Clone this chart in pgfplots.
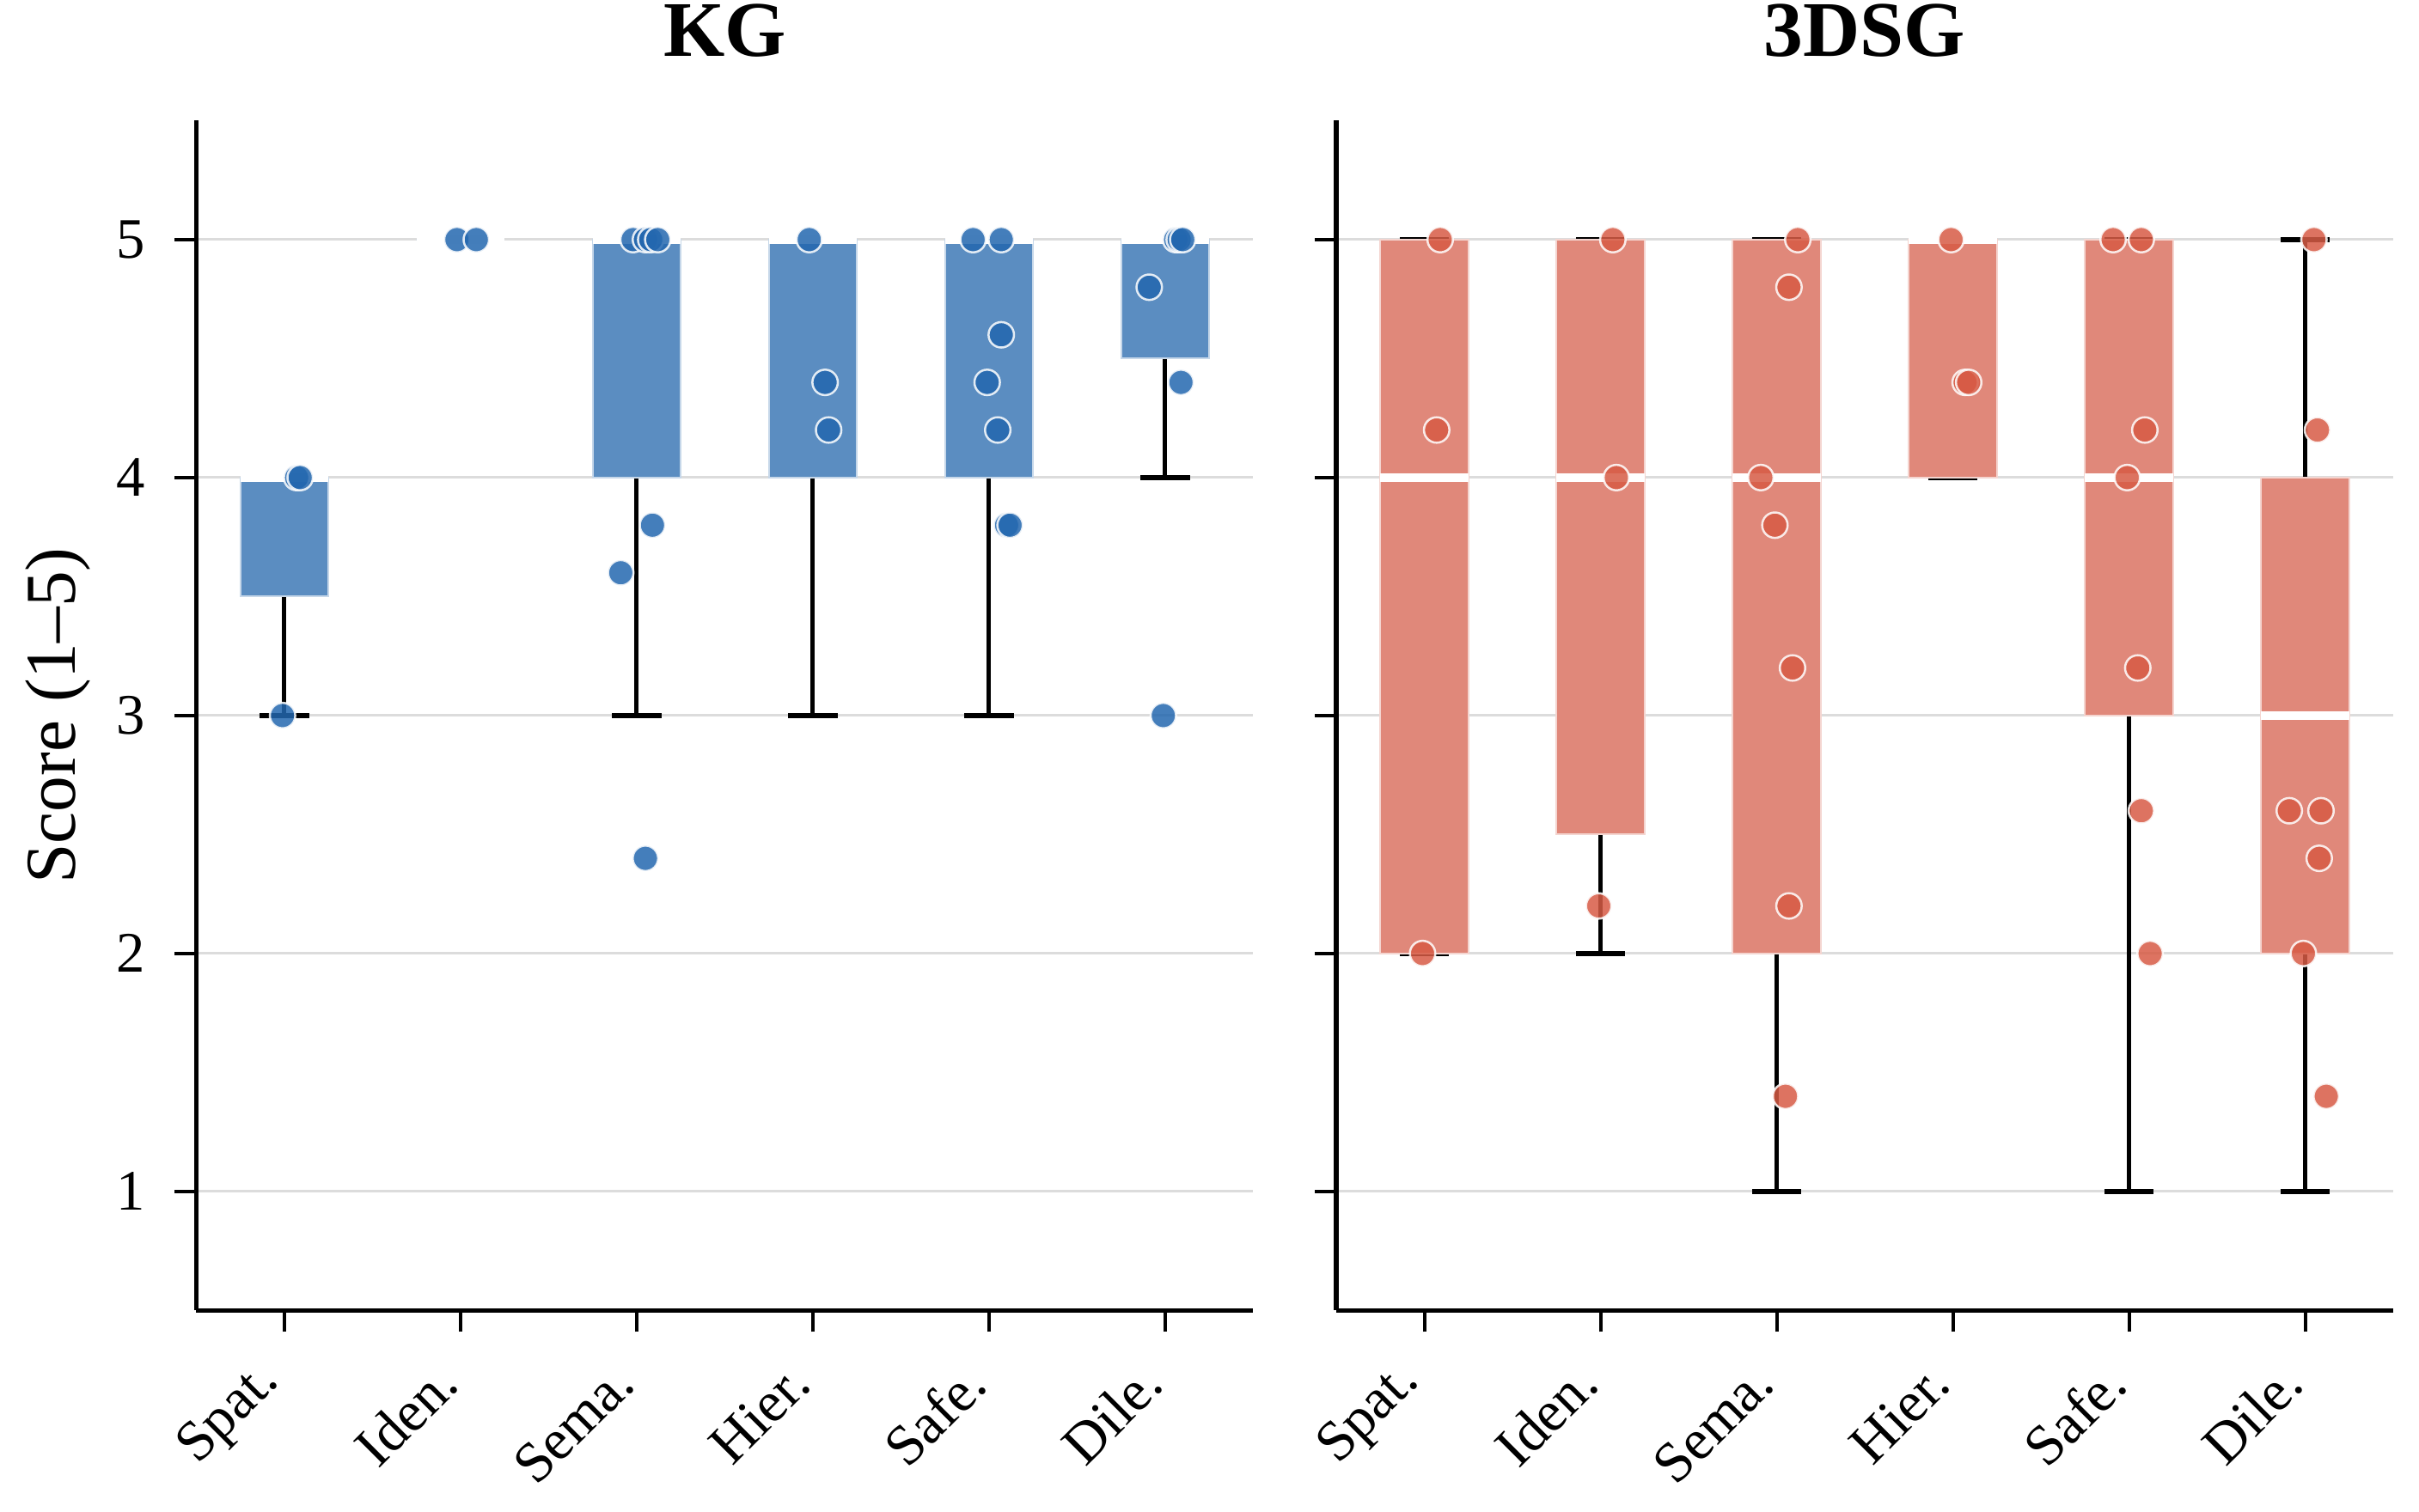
\documentclass[border=0pt]{standalone}
\usepackage{fontspec}
\setmainfont{Liberation Serif}
\usepackage{pgfplots}
\pgfplotsset{compat=1.18}
\usepgfplotslibrary{statistics}

\definecolor{kgbox}{RGB}{91,141,193}
\definecolor{kgpt}{RGB}{35,103,175}
\definecolor{sgbox}{RGB}{224,136,122}
\definecolor{sgpt}{RGB}{215,91,69}
\definecolor{gridgray}{RGB}{220,220,220}

% one box: position, lower whisker, Q1, median, Q3, upper whisker
\newcommand{\scorebox}[6]{%
  \addplot[boxplot prepared={draw position=#1, lower whisker=#2,
      lower quartile=#3, median=#4, upper quartile=#5, upper whisker=#6,
      box extend=0.5, whisker extend=0.28}] coordinates {};}

\pgfplotsset{
  panel/.style={
    scale only axis, width=295.2bp, height=332.4bp,
    xmin=-0.5, xmax=5.5, ymin=0.5, ymax=5.5,
    axis lines=left,
    axis line style={-, line width=1.28bp},
    tick align=outside, major tick length=6bp,
    every tick/.style={black, line width=0.96bp},
    xtick={0,...,5}, ytick={1,...,5},
    xticklabels={Spat.,Iden.,Sema.,Hier.,Safe.,Dile.},
    ymajorgrids, major grid style={gridgray, line width=0.7bp},
    /pgf/number format/assume math mode=true,
    tick label style={font=\fontsize{16bp}{19bp}\selectfont},
    xticklabel style={rotate=45, anchor=east, inner xsep=5bp, inner ysep=0pt},
    yticklabel style={anchor=east, inner sep=0pt},
    xticklabel shift=8bp, yticklabel shift=8bp,
    title style={font=\fontsize{22bp}{26bp}\selectfont\bfseries,
      at={(0.5,1)}, anchor=base, yshift=12bp},
    boxplot/draw direction=y,
    boxplot/every whisker/.style={black, line width=1.25bp},
    boxplot/every median/.style={white, line width=2.2bp},
    boxplot/draw/.code={%
      \draw[/pgfplots/boxplot/every whisker/.try]
        (boxplot cs:\pgfplotsboxplotvalue{lower whisker})
          -- (boxplot cs:\pgfplotsboxplotvalue{lower quartile})
        (boxplot cs:\pgfplotsboxplotvalue{upper quartile})
          -- (boxplot cs:\pgfplotsboxplotvalue{upper whisker})
        (boxplot whisker cs:\pgfplotsboxplotvalue{lower whisker},0)
          -- (boxplot whisker cs:\pgfplotsboxplotvalue{lower whisker},1)
        (boxplot whisker cs:\pgfplotsboxplotvalue{upper whisker},0)
          -- (boxplot whisker cs:\pgfplotsboxplotvalue{upper whisker},1);
      \draw[/pgfplots/boxplot/every box/.try]
        (boxplot box cs:\pgfplotsboxplotvalue{lower quartile},0)
          rectangle (boxplot box cs:\pgfplotsboxplotvalue{upper quartile},1);
      \draw[/pgfplots/boxplot/every median/.try]
        (boxplot box cs:\pgfplotsboxplotvalue{median},0)
          -- (boxplot box cs:\pgfplotsboxplotvalue{median},1);
    },
  },
  dots/.style={only marks, mark=*, mark size=3.55bp,
    mark options={fill=#1, draw=white, line width=0.6bp, opacity=0.85}},
}

\begin{document}
\begin{tikzpicture}
\path[use as bounding box] (0,0) rectangle (675.6bp,422.4bp);

% ---------------- KG ----------------
\begin{axis}[panel, at={(54.8bp,56.3bp)}, anchor=south west,
  title={KG}, ylabel={Score (1--5)},
  every axis y label/.style={at={(axis description cs:-0.1142,0.5)},
    rotate=90, anchor=base, font=\fontsize{20bp}{24bp}\selectfont},
  boxplot/every box/.style={fill=kgbox, draw=kgbox!35!white, line width=0.5bp}]
\scorebox{0}{3}{3.5}{4}{4}{4}
\scorebox{1}{5}{5}{5}{5}{5}
\scorebox{2}{3}{4}{5}{5}{5}
\scorebox{3}{3}{4}{5}{5}{5}
\scorebox{4}{3}{4}{5}{5}{5}
\scorebox{5}{4}{4.5}{5}{5}{5}
\addplot[dots=kgpt] table {
x y
0.07 4
0.09 4
-0.01 3
0.98 5
1.09 5
1.98 5
2.05 5
2.08 5
2.12 5
2.09 3.8
1.91 3.6
2.05 2.4
2.98 5
3.07 4.4
3.09 4.2
3.91 5
4.07 5
4.07 4.6
3.99 4.4
4.05 4.2
4.10 3.8
4.12 3.8
5.06 5
5.08 5
5.10 5
4.91 4.8
5.09 4.4
4.99 3
};
\end{axis}

% ---------------- 3DSG ----------------
\begin{axis}[panel, at={(373.2bp,56.3bp)}, anchor=south west,
  title={3DSG}, yticklabels={},
  boxplot/every box/.style={fill=sgbox, draw=sgbox!35!white, line width=0.5bp}]
\scorebox{0}{2}{2}{4}{5}{5}
\scorebox{1}{2}{2.5}{4}{5}{5}
\scorebox{2}{1}{2}{4}{5}{5}
\scorebox{3}{4}{4}{5}{5}{5}
\scorebox{4}{1}{3}{4}{5}{5}
\scorebox{5}{1}{2}{3}{4}{5}
\addplot[dots=sgpt] table {
x y
0.09 5
0.07 4.2
-0.01 2
1.07 5
1.09 4
0.99 2.2
2.12 5
2.07 4.8
1.91 4
1.99 3.8
2.09 3.2
2.07 2.2
2.05 1.4
2.99 5
3.07 4.4
3.09 4.4
3.91 5
4.07 5
4.09 4.2
3.99 4
4.05 3.2
4.07 2.6
4.12 2
5.05 5
5.07 4.2
4.91 2.6
5.09 2.6
5.08 2.4
4.99 2
5.12 1.4
};
\end{axis}
\end{tikzpicture}
\end{document}
